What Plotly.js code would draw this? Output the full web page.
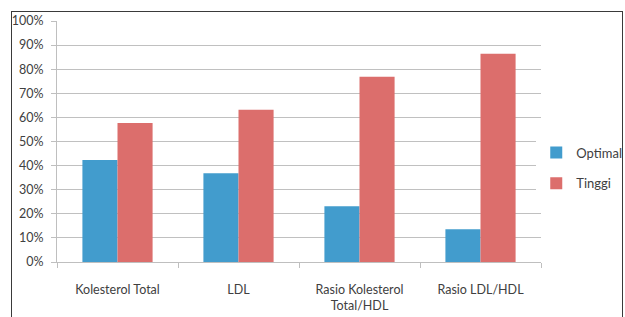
<!DOCTYPE html>
<html>
<head>
<meta charset="utf-8">
<script src="https://cdn.plot.ly/plotly-3.0.1.min.js"></script>
<style>
  html, body { margin: 0; padding: 0; background: #fff; }
  #wrap { position: relative; width: 625px; height: 317px; overflow: hidden; }
  #chart { position: absolute; left: 0; top: 0; width: 625px; height: 317px; }
  #frame { position: absolute; left: 11px; top: 11px; width: 610px; height: 330px;
           border: 1.5px solid #3a3a3a; pointer-events: none; }
</style>
</head>
<body>
<div id="wrap">
  <div id="chart"></div>
  <div id="frame"></div>
</div>
<script>
const categories = ["Kolesterol Total", "LDL", "Rasio Kolesterol<br>Total/HDL", "Rasio LDL/HDL"];
const optimal = [42.3, 36.8, 23.1, 13.6];
const tinggi = [57.7, 63.2, 76.9, 86.4];
const yTicks = [0, 10, 20, 30, 40, 50, 60, 70, 80, 90, 100];
const yTickLabels = yTicks.map(v => v + "%");

const font = { family: "Lato, 'Open Sans', sans-serif", size: 12.5, color: "#404040" };

const data = [
  { type: "bar", name: "Optimal", x: categories, y: optimal, marker: { color: "#429CCD" },
    legendgroup: "a", hoverinfo: "skip" },
  { type: "bar", name: "Tinggi", x: categories, y: tinggi, marker: { color: "#DC6E6C" },
    legendgroup: "b", hoverinfo: "skip" }
];

const layout = {
  width: 625, height: 317,
  margin: { l: 57, r: 84, t: 21, b: 55, pad: 0, autoexpand: false },
  paper_bgcolor: "#fff", plot_bgcolor: "#fff",
  font: font,
  barmode: "group",
  bargap: 0.42,
  bargroupgap: 0,
  showlegend: true,
  legend: { xref: "container", yref: "container", x: 0.858, xanchor: "left", y: 0.47, yanchor: "middle",
            traceorder: "grouped", tracegroupgap: 11, itemwidth: 30,
            font: { family: "Lato, 'Open Sans', sans-serif", size: 13, color: "#404040" } },
  xaxis: { type: "category", showgrid: false, showline: true, linecolor: "#bfbfbf", linewidth: 1,
           ticks: "outside", tickson: "boundaries", ticklen: 5, tickcolor: "#bfbfbf",
           ticklabelstandoff: 16, tickfont: font, automargin: false },
  yaxis: { range: [0, 100], tickvals: yTicks, ticktext: yTickLabels,
           showgrid: true, gridcolor: "#c0c0c0", gridwidth: 1,
           showline: true, linecolor: "#bfbfbf", linewidth: 1,
           ticks: "outside", ticklen: 5, tickcolor: "#bfbfbf", zeroline: false,
           ticklabelstandoff: 5, tickfont: font, automargin: false }
};

Plotly.newPlot("chart", data, layout, { staticPlot: true, displayModeBar: false });
</script>
</body>
</html>
